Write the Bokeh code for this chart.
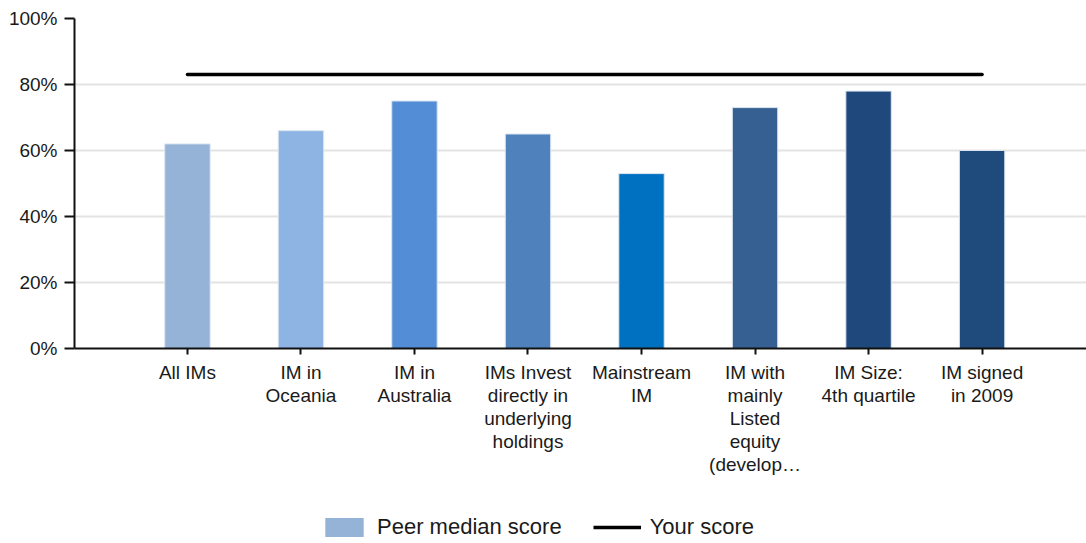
from bokeh.plotting import figure
from bokeh.layouts import column
from bokeh.models import (ColumnDataSource, Range1d, FixedTicker, PrintfTickFormatter,
                          Legend, LegendItem)
from bokeh.embed import file_html
from bokeh.resources import INLINE

categories = ["All IMs", "IM in\nOceania", "IM in\nAustralia",
              "IMs Invest\ndirectly in\nunderlying\nholdings", "Mainstream\nIM",
              "IM with\nmainly\nListed\nequity\n(develop\u2026", "IM Size:\n4th quartile",
              "IM signed\nin 2009"]
peer_median = [62, 66, 75, 65, 53, 73, 78, 60]
your_score = 83
bar_colors = ["#95B3D7", "#8DB4E2", "#538DD5", "#4F81BD", "#0070C0", "#366092",
              "#1F497D", "#1F4B7C"]
y_ticks = [0, 20, 40, 60, 80, 100]

xs = list(range(1, len(categories) + 1))
src = ColumnDataSource(dict(x=xs, y=peer_median, color=bar_colors))

FONT = "Liberation Sans"
TXT = "#1a1a1a"
W = 1086

p = figure(width=W, height=490, output_backend="svg", toolbar_location=None,
           x_range=Range1d(0.005, 8.92), y_range=Range1d(0, 100),
           min_border_left=74, min_border_right=0, min_border_top=18,
           min_border_bottom=142)
p.outline_line_color = None
p.background_fill_color = "white"

bars = p.vbar(x="x", top="y", width=0.4, bottom=0, fill_color="color",
              line_color="#dbe5f1", line_width=1, source=src)
line = p.line(x=[xs[0], xs[-1]], y=[your_score, your_score], line_color="black",
              line_width=3.5, line_cap="round")

p.xgrid.grid_line_color = None
p.ygrid.ticker = FixedTicker(ticks=y_ticks)
p.ygrid.grid_line_color = "#e3e3e3"
p.ygrid.grid_line_width = 2

p.yaxis.ticker = FixedTicker(ticks=y_ticks)
p.yaxis.formatter = PrintfTickFormatter(format="%d%%")
p.yaxis.minor_tick_line_color = None
p.yaxis.major_tick_in = 0
p.yaxis.major_tick_out = 10
p.yaxis.major_label_standoff = 7
p.yaxis.axis_line_width = 2
p.yaxis.major_tick_line_width = 2
p.yaxis.axis_line_color = "#111"
p.yaxis.major_tick_line_color = "#111"

p.xaxis.ticker = FixedTicker(ticks=xs)
p.xaxis.major_label_overrides = {x: c for x, c in zip(xs, categories)}
p.xaxis.minor_tick_line_color = None
p.xaxis.major_tick_in = 0
p.xaxis.major_tick_out = 6
p.xaxis.major_label_standoff = 7
p.xaxis.axis_line_width = 2
p.xaxis.major_tick_line_width = 2
p.xaxis.axis_line_color = "#111"
p.xaxis.major_tick_line_color = "#111"
p.xaxis.major_label_text_line_height = 1.1

for ax in (p.xaxis, p.yaxis):
    ax.major_label_text_font = FONT
    ax.major_label_text_font_size = "19px"
    ax.major_label_text_color = TXT

# legend strip below the chart (hidden proxy renderers only supply legend glyphs)
q = figure(width=W, height=50, output_backend="svg", toolbar_location=None,
           x_range=Range1d(0, 1), y_range=Range1d(0, 1),
           x_axis_location=None, y_axis_location=None,
           min_border_left=0, min_border_right=0, min_border_top=0, min_border_bottom=0)
q.outline_line_color = None
q.grid.visible = False
lb = q.vbar(x="x", top="y", width=0.4, fill_color=bar_colors[0], line_color=None,
            source=src, visible=False)
ll = q.line(x=[xs[0], xs[-1]], y=[your_score, your_score], line_color="black",
            line_width=3.5, visible=False)
legend = Legend(items=[LegendItem(label="Peer median score", renderers=[lb], index=0),
                       LegendItem(label="Your score", renderers=[ll])],
                orientation="horizontal", location=(246, 0),
                glyph_width=48, glyph_height=24, label_standoff=9, spacing=31,
                label_text_font=FONT, label_text_font_size="22px",
                label_text_color=TXT, border_line_color=None,
                background_fill_alpha=0, margin=0, padding=0,
                inactive_fill_alpha=0)
q.add_layout(legend, "center")

layout = column(p, q, spacing=0)
open("out.html", "w").write(file_html(layout, INLINE))
